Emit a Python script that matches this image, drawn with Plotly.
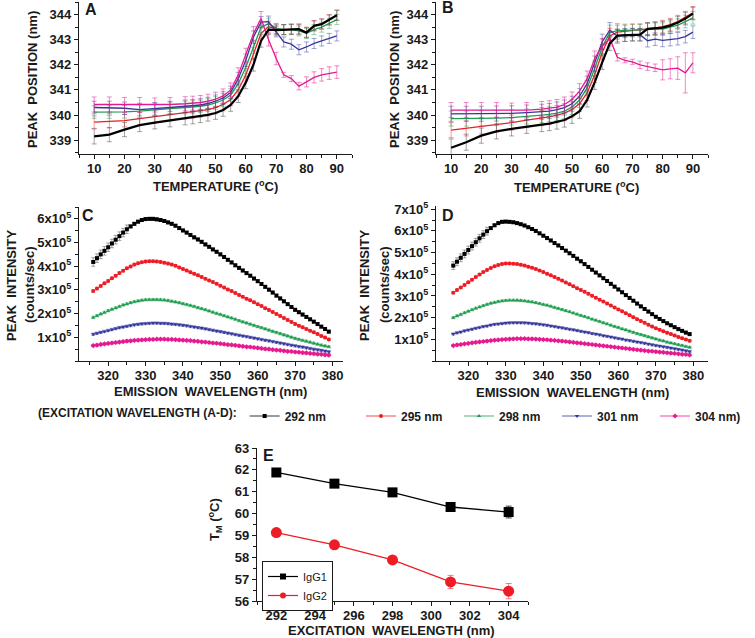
import plotly.graph_objects as go
import numpy as np

W, H = 755, 638
FONT = "Liberation Sans, Arial, sans-serif"
INK = "#1a1a1a"

# ---------------- data ----------------
series_names = ["292 nm", "295 nm", "298 nm", "301 nm", "304 nm)"]
colors = ["#000000", "#ee1c25", "#1f9e50", "#35379c", "#e6198f"]
err_colors = ["rgba(90,90,90,0.55)", "rgba(238,28,37,0.45)", "rgba(31,158,80,0.45)",
              "rgba(53,55,156,0.45)", "rgba(230,25,143,0.5)"]
symbols = ["square", "circle", "triangle-up", "triangle-down", "diamond"]

temps = [10, 15, 20, 25, 30, 35, 40, 42.5, 45, 47.5, 50, 52.5, 55, 57.5, 60, 62.5,
         65, 67.5, 70, 72.5, 75, 77.5, 80, 82.5, 85, 87.5, 90]

A_292 = [339.15, 339.22, 339.42, 339.60, 339.70, 339.78, 339.86, 339.90, 339.95, 340.01, 340.08, 340.20, 340.40, 340.75,
         341.30, 342.00, 342.95, 343.40, 343.38, 343.40, 343.42, 343.42, 343.28, 343.55, 343.62, 343.78, 343.97]
A_295 = [339.72, 339.74, 339.78, 339.86, 339.95, 340.02, 340.10, 340.13, 340.17, 340.22, 340.30, 340.42, 340.62, 341.00,
         341.60, 342.45, 343.25, 343.52, 343.42, 343.40, 343.42, 343.42, 343.30, 343.56, 343.63, 343.80, 343.98]
A_298 = [340.12, 340.12, 340.13, 340.16, 340.22, 340.26, 340.30, 340.32, 340.35, 340.40, 340.48, 340.60, 340.80, 341.25,
         341.90, 342.70, 343.50, 343.64, 343.45, 343.40, 343.40, 343.35, 343.25, 343.40, 343.50, 343.65, 343.80]
A_301 = [340.30, 340.30, 340.27, 340.22, 340.25, 340.30, 340.35, 340.37, 340.40, 340.46, 340.55, 340.68, 340.90, 341.45,
         342.18, 343.10, 343.70, 343.72, 343.31, 342.91, 342.82, 342.60, 342.71, 342.85, 342.95, 343.05, 343.15]
A_304 = [340.42, 340.42, 340.40, 340.40, 340.40, 340.42, 340.45, 340.47, 340.50, 340.55, 340.63, 340.76, 341.00, 341.60,
         342.38, 343.24, 343.84, 343.00, 342.25, 341.60, 341.45, 341.15, 341.32, 341.50, 341.60, 341.67, 341.71]
A_err_292 = [0.30, 0.28, 0.28, 0.26, 0.25, 0.25, 0.25, 0.25, 0.25, 0.25, 0.25, 0.25, 0.25, 0.25,
             0.25, 0.25, 0.25, 0.20, 0.20, 0.20, 0.20, 0.20, 0.20, 0.20, 0.20, 0.20, 0.20]
A_err_other = [0.25, 0.25, 0.25, 0.25, 0.25, 0.25, 0.25, 0.25, 0.25, 0.25, 0.25, 0.25, 0.25, 0.25,
               0.25, 0.25, 0.22, 0.22, 0.20, 0.20, 0.20, 0.20, 0.20, 0.20, 0.20, 0.20, 0.20]
A_err_304 = [0.30, 0.30, 0.30, 0.30, 0.28, 0.28, 0.28, 0.28, 0.28, 0.28, 0.28, 0.28, 0.28, 0.28,
             0.28, 0.28, 0.28, 0.25, 0.25, 0.10, 0.12, 0.15, 0.20, 0.22, 0.25, 0.25, 0.25]

B_292 = [338.70, 338.92, 339.18, 339.35, 339.45, 339.55, 339.62, 339.66, 339.72, 339.80, 339.95, 340.15, 340.60, 341.30,
         342.10, 342.85, 343.16, 343.18, 343.20, 343.20, 343.43, 343.45, 343.48, 343.56, 343.68, 343.84, 344.04]
B_295 = [339.40, 339.47, 339.55, 339.62, 339.70, 339.80, 339.88, 339.93, 340.00, 340.08, 340.22, 340.45, 340.88, 341.60,
         342.50, 343.15, 343.30, 343.33, 343.36, 343.38, 343.42, 343.46, 343.52, 343.60, 343.72, 343.88, 344.07]
B_298 = [339.86, 339.86, 339.87, 339.88, 339.90, 339.94, 340.00, 340.03, 340.08, 340.16, 340.32, 340.60, 341.08, 341.85,
         342.72, 343.28, 343.36, 343.37, 343.38, 343.36, 343.40, 343.42, 343.42, 343.50, 343.58, 343.72, 343.87]
B_301 = [340.05, 340.05, 340.05, 340.06, 340.07, 340.10, 340.13, 340.16, 340.22, 340.30, 340.45, 340.75, 341.25, 342.05,
         342.92, 343.38, 343.14, 343.18, 343.20, 343.20, 342.96, 343.02, 342.97, 343.00, 343.04, 343.12, 343.30]
B_304 = [340.20, 340.20, 340.20, 340.20, 340.18, 340.20, 340.24, 340.27, 340.32, 340.42, 340.62, 340.95, 341.45, 342.25,
         342.75, 343.05, 342.30, 342.18, 342.12, 342.00, 341.93, 341.88, 341.80, 341.84, 341.87, 341.68, 342.08]
B_err_292 = [0.35, 0.32, 0.30, 0.30, 0.28, 0.28, 0.28, 0.28, 0.28, 0.28, 0.28, 0.28, 0.28, 0.28,
             0.28, 0.28, 0.25, 0.25, 0.25, 0.25, 0.25, 0.25, 0.25, 0.25, 0.25, 0.25, 0.25]
B_err_other = [0.30, 0.30, 0.30, 0.30, 0.30, 0.30, 0.30, 0.30, 0.30, 0.30, 0.30, 0.30, 0.30, 0.30,
               0.30, 0.30, 0.28, 0.25, 0.25, 0.25, 0.25, 0.25, 0.25, 0.25, 0.25, 0.25, 0.25]
B_err_304 = [0.30, 0.30, 0.30, 0.30, 0.30, 0.30, 0.30, 0.30, 0.30, 0.30, 0.30, 0.30, 0.30, 0.30,
             0.30, 0.30, 0.15, 0.10, 0.10, 0.15, 0.15, 0.15, 0.40, 0.40, 0.45, 0.80, 0.40]

wavelength = list(range(316, 380))  # emission wavelength (nm)

# peak intensities in units of 1e5 counts/sec
C_292 = [4.18, 4.34, 4.50, 4.65, 4.80, 4.96, 5.12, 5.27, 5.42, 5.56, 5.68, 5.79, 5.88, 5.95, 5.99, 6.00,
         6.00, 5.98, 5.95, 5.91, 5.85, 5.79, 5.71, 5.61, 5.51, 5.42, 5.32, 5.22, 5.13, 5.03, 4.92, 4.82,
         4.71, 4.61, 4.50, 4.39, 4.27, 4.16, 4.04, 3.93, 3.82, 3.71, 3.60, 3.48, 3.37, 3.25, 3.13, 3.01,
         2.89, 2.76, 2.64, 2.52, 2.40, 2.28, 2.16, 2.06, 1.96, 1.86, 1.76, 1.66, 1.56, 1.45, 1.35, 1.24]
C_295 = [2.95, 3.06, 3.17, 3.28, 3.38, 3.49, 3.60, 3.71, 3.81, 3.91, 3.99, 4.07, 4.13, 4.17, 4.20, 4.21,
         4.21, 4.20, 4.18, 4.15, 4.11, 4.07, 4.02, 3.95, 3.88, 3.82, 3.75, 3.68, 3.62, 3.55, 3.47, 3.40,
         3.33, 3.26, 3.18, 3.10, 3.02, 2.95, 2.87, 2.79, 2.71, 2.63, 2.56, 2.48, 2.40, 2.32, 2.23, 2.15,
         2.07, 1.98, 1.90, 1.81, 1.73, 1.65, 1.56, 1.49, 1.42, 1.35, 1.28, 1.21, 1.14, 1.06, 0.99, 0.91]
C_298 = [1.84, 1.91, 1.98, 2.05, 2.12, 2.18, 2.24, 2.30, 2.36, 2.41, 2.46, 2.50, 2.53, 2.56, 2.58, 2.59,
         2.59, 2.59, 2.58, 2.57, 2.55, 2.52, 2.49, 2.46, 2.42, 2.38, 2.34, 2.30, 2.25, 2.21, 2.16, 2.11,
         2.06, 2.01, 1.96, 1.91, 1.86, 1.81, 1.76, 1.70, 1.65, 1.60, 1.55, 1.50, 1.45, 1.40, 1.35, 1.30,
         1.25, 1.20, 1.15, 1.10, 1.05, 1.00, 0.95, 0.91, 0.87, 0.83, 0.79, 0.75, 0.71, 0.67, 0.63, 0.60]
C_301 = [1.13, 1.17, 1.21, 1.25, 1.29, 1.33, 1.37, 1.41, 1.44, 1.47, 1.50, 1.53, 1.55, 1.57, 1.58, 1.59,
         1.60, 1.60, 1.59, 1.59, 1.58, 1.56, 1.55, 1.53, 1.51, 1.49, 1.46, 1.44, 1.41, 1.39, 1.36, 1.33,
         1.30, 1.27, 1.24, 1.21, 1.18, 1.15, 1.12, 1.09, 1.06, 1.03, 1.00, 0.97, 0.94, 0.91, 0.88, 0.85,
         0.82, 0.79, 0.76, 0.73, 0.70, 0.67, 0.64, 0.61, 0.59, 0.56, 0.53, 0.50, 0.47, 0.45, 0.42, 0.39]
C_304 = [0.65, 0.67, 0.70, 0.72, 0.74, 0.76, 0.78, 0.80, 0.82, 0.84, 0.85, 0.87, 0.88, 0.89, 0.90, 0.91,
         0.91, 0.92, 0.92, 0.92, 0.91, 0.91, 0.90, 0.89, 0.88, 0.87, 0.86, 0.84, 0.83, 0.81, 0.80, 0.78,
         0.76, 0.75, 0.73, 0.71, 0.69, 0.68, 0.66, 0.64, 0.62, 0.60, 0.59, 0.57, 0.55, 0.53, 0.51, 0.50,
         0.48, 0.46, 0.45, 0.43, 0.41, 0.40, 0.38, 0.37, 0.35, 0.34, 0.32, 0.31, 0.29, 0.28, 0.26, 0.25]

D_292 = [4.40, 4.58, 4.76, 4.94, 5.12, 5.30, 5.48, 5.66, 5.83, 5.99, 6.13, 6.26, 6.36, 6.42, 6.43, 6.42,
         6.40, 6.36, 6.31, 6.25, 6.17, 6.09, 6.00, 5.89, 5.78, 5.67, 5.56, 5.44, 5.33, 5.21, 5.09, 4.97,
         4.85, 4.72, 4.60, 4.47, 4.34, 4.21, 4.08, 3.95, 3.82, 3.69, 3.56, 3.43, 3.30, 3.17, 3.04, 2.91,
         2.78, 2.65, 2.52, 2.40, 2.28, 2.16, 2.04, 1.94, 1.84, 1.74, 1.65, 1.56, 1.47, 1.39, 1.31, 1.24]
D_295 = [3.15, 3.27, 3.39, 3.51, 3.63, 3.75, 3.87, 3.99, 4.10, 4.20, 4.29, 4.37, 4.43, 4.48, 4.50, 4.50,
         4.49, 4.47, 4.44, 4.40, 4.35, 4.30, 4.24, 4.17, 4.10, 4.02, 3.95, 3.87, 3.79, 3.71, 3.62, 3.54,
         3.45, 3.36, 3.28, 3.19, 3.10, 3.01, 2.92, 2.83, 2.74, 2.65, 2.56, 2.47, 2.38, 2.29, 2.20, 2.11,
         2.02, 1.93, 1.84, 1.76, 1.67, 1.59, 1.51, 1.44, 1.37, 1.30, 1.24, 1.18, 1.11, 1.05, 0.99, 0.93]
D_298 = [2.00, 2.08, 2.15, 2.22, 2.29, 2.36, 2.43, 2.49, 2.55, 2.61, 2.66, 2.70, 2.74, 2.77, 2.79, 2.80,
         2.80, 2.80, 2.79, 2.77, 2.75, 2.72, 2.69, 2.65, 2.61, 2.57, 2.52, 2.47, 2.42, 2.37, 2.32, 2.27,
         2.21, 2.16, 2.10, 2.05, 1.99, 1.93, 1.88, 1.82, 1.76, 1.71, 1.65, 1.59, 1.54, 1.48, 1.43, 1.37,
         1.32, 1.26, 1.21, 1.16, 1.11, 1.06, 1.01, 0.96, 0.92, 0.87, 0.83, 0.79, 0.75, 0.71, 0.67, 0.63]
D_301 = [1.25, 1.30, 1.34, 1.39, 1.43, 1.47, 1.51, 1.55, 1.59, 1.62, 1.66, 1.69, 1.71, 1.73, 1.75, 1.76,
         1.77, 1.77, 1.77, 1.76, 1.75, 1.73, 1.72, 1.70, 1.67, 1.65, 1.62, 1.59, 1.56, 1.53, 1.50, 1.47,
         1.44, 1.41, 1.37, 1.34, 1.31, 1.27, 1.24, 1.21, 1.17, 1.14, 1.11, 1.07, 1.04, 1.01, 0.97, 0.94,
         0.91, 0.88, 0.85, 0.82, 0.78, 0.75, 0.72, 0.69, 0.66, 0.63, 0.60, 0.57, 0.54, 0.51, 0.47, 0.44]
D_304 = [0.71, 0.74, 0.76, 0.79, 0.81, 0.84, 0.86, 0.88, 0.90, 0.92, 0.94, 0.96, 0.97, 0.99, 1.00, 1.01,
         1.02, 1.03, 1.03, 1.03, 1.02, 1.02, 1.01, 1.00, 0.99, 0.98, 0.96, 0.95, 0.93, 0.92, 0.90, 0.88,
         0.86, 0.84, 0.82, 0.80, 0.78, 0.76, 0.74, 0.72, 0.70, 0.68, 0.66, 0.64, 0.62, 0.60, 0.58, 0.56,
         0.54, 0.52, 0.50, 0.48, 0.46, 0.45, 0.43, 0.41, 0.40, 0.38, 0.36, 0.35, 0.33, 0.31, 0.30, 0.28]
spec_err_292 = [0.18] * 10 + [0.06] * 54
spec_err_other = [0.05] * 64

intensity_ticks = [1, 2, 3, 4, 5, 6, 7]

exc_wavelength = [292, 295, 298, 301, 304]
tm_igg1 = [61.88, 61.37, 60.97, 60.30, 60.07]
tm_igg1_err = [0.10, 0.08, 0.10, 0.12, 0.27]
tm_igg2 = [59.13, 58.57, 57.88, 56.87, 56.45]
tm_igg2_err = [0.15, 0.10, 0.15, 0.30, 0.35]

# ---------------- figure ----------------
fig = go.Figure()

def fx(p):
    return p / W

def fy(p):
    return 1 - p / H

A_sets = [(A_292, A_err_292), (A_295, A_err_other), (A_298, A_err_other), (A_301, A_err_other), (A_304, A_err_304)]
B_sets = [(B_292, B_err_292), (B_295, B_err_other), (B_298, B_err_other), (B_301, B_err_other), (B_304, B_err_304)]
order = [1, 2, 3, 4, 0]  # black drawn last (on top)

for xa, ya, sets in [("x", "y", A_sets), ("x2", "y2", B_sets)]:
    for i in order:
        vals, errs = sets[i]
        fig.add_trace(go.Scatter(
            x=temps, y=vals, mode="lines", xaxis=xa, yaxis=ya, showlegend=False,
            line=dict(color=colors[i], width=2.2 if i == 0 else 1.3),
            error_y=dict(type="data", array=errs, visible=True, color=err_colors[i], thickness=1, width=2.5),
            hoverinfo="skip"))

C_sets = [C_292, C_295, C_298, C_301, C_304]
D_sets = [D_292, D_295, D_298, D_301, D_304]
for xa, ya, sets, show in [("x3", "y3", C_sets, True), ("x4", "y4", D_sets, False)]:
    for i in range(5):
        errs = spec_err_292 if i == 0 else spec_err_other
        fig.add_trace(go.Scatter(
            x=wavelength, y=np.array(sets[i]) * 1e5, mode="lines+markers", xaxis=xa, yaxis=ya,
            name=series_names[i], showlegend=show,
            legend="legend" if i == 0 else "legend3",
            line=dict(color=colors[i], width=0.8),
            marker=dict(symbol=symbols[i], size=4, color=colors[i], line=dict(width=0)),
            error_y=dict(type="data", array=np.array(errs) * 1e5, visible=True,
                         color=err_colors[i], thickness=1, width=2),
            hoverinfo="skip"))

fig.add_trace(go.Scatter(
    x=exc_wavelength, y=tm_igg1, mode="lines+markers", name="IgG1", xaxis="x5", yaxis="y5",
    showlegend=False, line=dict(color="#000000", width=1.3),
    marker=dict(symbol="square", size=10, color="#000000"),
    error_y=dict(type="data", array=tm_igg1_err, color="#444444", thickness=1, width=3)))
fig.add_trace(go.Scatter(
    x=exc_wavelength, y=tm_igg2, mode="lines+markers", name="IgG2", xaxis="x5", yaxis="y5",
    showlegend=False, line=dict(color="#ee1c25", width=1.3),
    marker=dict(symbol="circle", size=11, color="#ee1c25"),
    error_y=dict(type="data", array=tm_igg2_err, color="rgba(238,28,37,0.55)", thickness=1, width=3)))
# legend entries for panel E (smaller symbols, as in the reference legend box)
fig.add_trace(go.Scatter(x=[None], y=[None], mode="lines+markers", name="IgG1", xaxis="x5", yaxis="y5",
                         legend="legend2", line=dict(color="#000000", width=1.2),
                         marker=dict(symbol="square", size=6, color="#000000")))
fig.add_trace(go.Scatter(x=[None], y=[None], mode="lines+markers", name="IgG2", xaxis="x5", yaxis="y5",
                         legend="legend2", line=dict(color="#ee1c25", width=1.2),
                         marker=dict(symbol="circle", size=6, color="#ee1c25")))

tickfont = dict(family=FONT, size=13, color=INK, weight="bold")

def axis(domain, rng, anchor, **kw):
    d = dict(domain=domain, range=rng, anchor=anchor, showline=True, linecolor=INK, linewidth=1.2,
             ticks="outside", ticklen=4, tickwidth=1.2, tickcolor=INK, showgrid=False, zeroline=False,
             tickfont=tickfont, fixedrange=True, layer="above traces", automargin=False)
    d.update(kw)
    return d

def xaxis(domain, rng, anchor, **kw):
    return axis(domain, rng, anchor, ticklabelstandoff=-2, **kw)

def minor(dt, t0=0):
    return dict(dtick=dt, tick0=t0, ticks="outside", ticklen=2.5, tickwidth=1, tickcolor=INK, showgrid=False)

dom_xA = [fx(79), fx(352)]
dom_xB = [fx(436), fx(708)]
dom_yAB = [fy(154), fy(2)]
dom_xC = [fx(79), fx(343)]
dom_yCD = [fy(361), fy(207)]
dom_xE = [fx(257), fx(528)]
dom_yE = [fy(601), fy(448)]

int_vals = [v * 1e5 for v in intensity_ticks]
int_text = [f"{v}x10<sup>5</sup>" for v in intensity_ticks]

legend_font = dict(family=FONT, size=12, color=INK, weight="bold")

fig.update_layout(
    width=W, height=H, margin=dict(l=0, r=0, t=0, b=0, pad=0, autoexpand=False),
    paper_bgcolor="white", plot_bgcolor="white",
    font=dict(family=FONT, color=INK),
    xaxis=xaxis(dom_xA, [5, 95], "y", dtick=10, tick0=0, minor=minor(5)),
    yaxis=axis(dom_yAB, [338.45, 344.5], "x", dtick=1, tick0=0, minor=minor(0.5)),
    xaxis2=xaxis(dom_xB, [5, 95], "y2", dtick=10, tick0=0, minor=minor(5)),
    yaxis2=axis(dom_yAB, [338.45, 344.5], "x2", dtick=1, tick0=0, minor=minor(0.5)),
    xaxis3=xaxis(dom_xC, [312.2, 382.8], "y3", dtick=10, tick0=0, minor=minor(5)),
    yaxis3=axis(dom_yCD, [0, 6.5e5], "x3", tickmode="array", tickvals=int_vals[:6], ticktext=int_text[:6],
                minor=minor(5e4)),
    xaxis4=xaxis(dom_xB, [311.4, 383.9], "y4", dtick=10, tick0=0, minor=minor(5)),
    yaxis4=axis([fy(361), fy(206)], [0, 7.15e5], "x4", tickmode="array", tickvals=int_vals, ticktext=int_text,
                minor=minor(5e4)),
    xaxis5=xaxis(dom_xE, [291, 305], "y5", dtick=2, tick0=0, minor=minor(1)),
    yaxis5=axis(dom_yE, [56, 63], "x5", dtick=1, tick0=0, minor=minor(0.5)),
    legend=dict(orientation="h", x=fx(36), xanchor="left", y=fy(416), yanchor="middle",
                title=dict(text="(EXCITATION WAVELENGTH (A-D):", side="left", font=legend_font),
                font=legend_font,
                bgcolor="rgba(0,0,0,0)", itemwidth=30, itemclick=False, itemdoubleclick=False),
    legend3=dict(orientation="h", x=fx(361), xanchor="left", y=fy(416), yanchor="middle",
                 font=legend_font, entrywidth=53, entrywidthmode="pixels",
                 bgcolor="rgba(0,0,0,0)", itemwidth=30, itemclick=False, itemdoubleclick=False),
    legend2=dict(orientation="v", x=fx(262), xanchor="left", y=fy(561), yanchor="top",
                 font=dict(family=FONT, size=11, color=INK),
                 bordercolor=INK, borderwidth=1, bgcolor="white", itemwidth=30,
                 tracegroupgap=0, itemclick=False, itemdoubleclick=False),
)

title_font = dict(family=FONT, size=13, color=INK, weight="bold")
letter_font = dict(family=FONT, size=16, color=INK, weight="bold")

def note(text, x, y, angle=0, font=title_font):
    fig.add_annotation(text=text, x=fx(x), y=fy(y), xref="paper", yref="paper", showarrow=False,
                       textangle=angle, font=font, xanchor="center", yanchor="middle")

note("PEAK  POSITION (nm)", 33, 80, -90)
note("TEMPERATURE (<sup>o</sup>C)", 215, 186)
note("PEAK  POSITION (nm)", 395, 80, -90)
note("TEMPERATURE (<sup>o</sup>C)", 576, 187)
note("PEAK  INTENSITY", 11, 285, -90)
note("(counts/sec)", 29, 285, -90)
note("EMISSION  WAVELENGTH (nm)", 211, 391)
note("PEAK  INTENSITY", 364, 285, -90)
note("(counts/sec)", 384, 285, -90)
note("EMISSION  WAVELENGTH (nm)", 572, 392)
note("T<sub>M</sub> (<sup>o</sup>C)", 215, 520, -90)
note("EXCITATION  WAVELENGTH (nm)", 391, 630)
note("A", 91, 9, font=letter_font)
note("B", 448, 8, font=letter_font)
note("C", 88, 215, font=letter_font)
note("D", 448, 215, font=letter_font)
note("E", 268, 455, font=letter_font)

fig.write_html("out.html", config={"displayModeBar": False},
               post_script="document.body.style.margin='0px';")
